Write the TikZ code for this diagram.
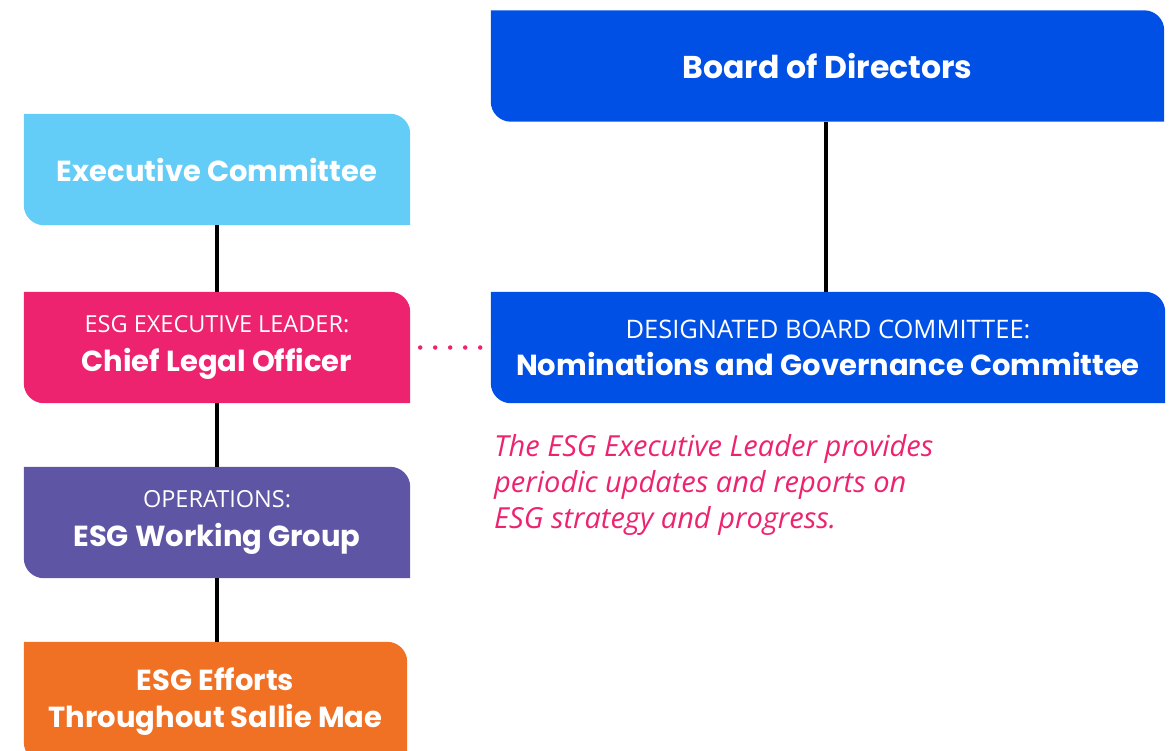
\documentclass[tikz,border=0pt]{standalone}
\usepackage{fontspec}
\setmainfont{Open Sans}
\newfontfamily\pop{Poppins}
\usetikzlibrary{backgrounds}
\definecolor{skyblue}{HTML}{63CDF7}
\definecolor{hotpink}{HTML}{ED2370}
\definecolor{violet}{HTML}{5E56A4}
\definecolor{tangerine}{HTML}{F07024}
\definecolor{royal}{HTML}{0050E6}
\newcommand\taglabel[2][23.5]{{\normalfont\fontsize{#1}{28}\selectfont #2}}
\tikzset{
  box/.style={minimum width=386pt, minimum height=111pt, inner sep=0pt,
    align=center, text=white, font=\pop\bfseries\fontsize{29}{37}\selectfont},
  widebox/.style={box, minimum width=673pt},
  link/.style={line width=4pt, black},
  dots/.style={hotpink, line width=4.5pt, line cap=round, dash pattern=on 0pt off 15pt},
  note/.style={text=hotpink, align=left, anchor=base west, inner sep=0pt,
    font=\itshape\fontsize{29}{35.7}\selectfont}
}
% leaf-shaped fill behind a node: rounded top-right and bottom-left corners
\newcommand\leaffill[2]{%
  \fill[#2] (#1.north west) -- ([xshift=-20pt]#1.north east)
    arc[start angle=90, end angle=0, radius=20pt] -- (#1.south east)
    -- ([xshift=20pt]#1.south west)
    arc[start angle=270, end angle=180, radius=20pt] -- cycle;}
\begin{document}
\begin{tikzpicture}[x=1pt, y=-1pt]
\useasboundingbox (0,0) rectangle (1169,750);

\node[box] (exec) at (217,169.5) {Executive Committee};
\node[box] (clo) at (217,347.5) {\taglabel{ESG EXECUTIVE LEADER:}\\[2pt]Chief Legal Officer};
\node[box] (ops) at (217,522.5) {\taglabel{OPERATIONS:}\\[2pt]ESG Working Group};
\node[box, minimum width=383pt, minimum height=120pt] (eff) at (215.5,702) {ESG Efforts\\Throughout Sallie Mae};
\node[widebox, font=\pop\bfseries\fontsize{31.5}{37}\selectfont] (board) at (827.5,66) {Board of Directors};
\node[widebox, minimum width=674pt] (ngc) at (828,347.5) {\taglabel[25.5]{DESIGNATED BOARD COMMITTEE:}\\[0pt]Nominations and Governance Committee};

% the last line's baseline sets the position
\node[note] (txt) at (494,528) {The ESG Executive Leader provides\\periodic updates and reports on\\ESG strategy and progress.};

\begin{scope}[on background layer]
  \leaffill{exec}{skyblue}
  \leaffill{clo}{hotpink}
  \leaffill{ops}{violet}
  \leaffill{eff}{tangerine}
  \leaffill{board}{royal}
  \leaffill{ngc}{royal}
\end{scope}

\draw[link] (exec.south) -- (clo.north);
\draw[link] (clo.south) -- (ops.north);
\draw[link] (ops.south) -- (eff.north -| ops.south);
\draw[link] (board.south -| 826,0) -- (ngc.north -| 826,0);
\draw[dots] ([xshift=10pt]clo.east) -- ([xshift=-10.5pt]ngc.west);
\end{tikzpicture}
\end{document}
